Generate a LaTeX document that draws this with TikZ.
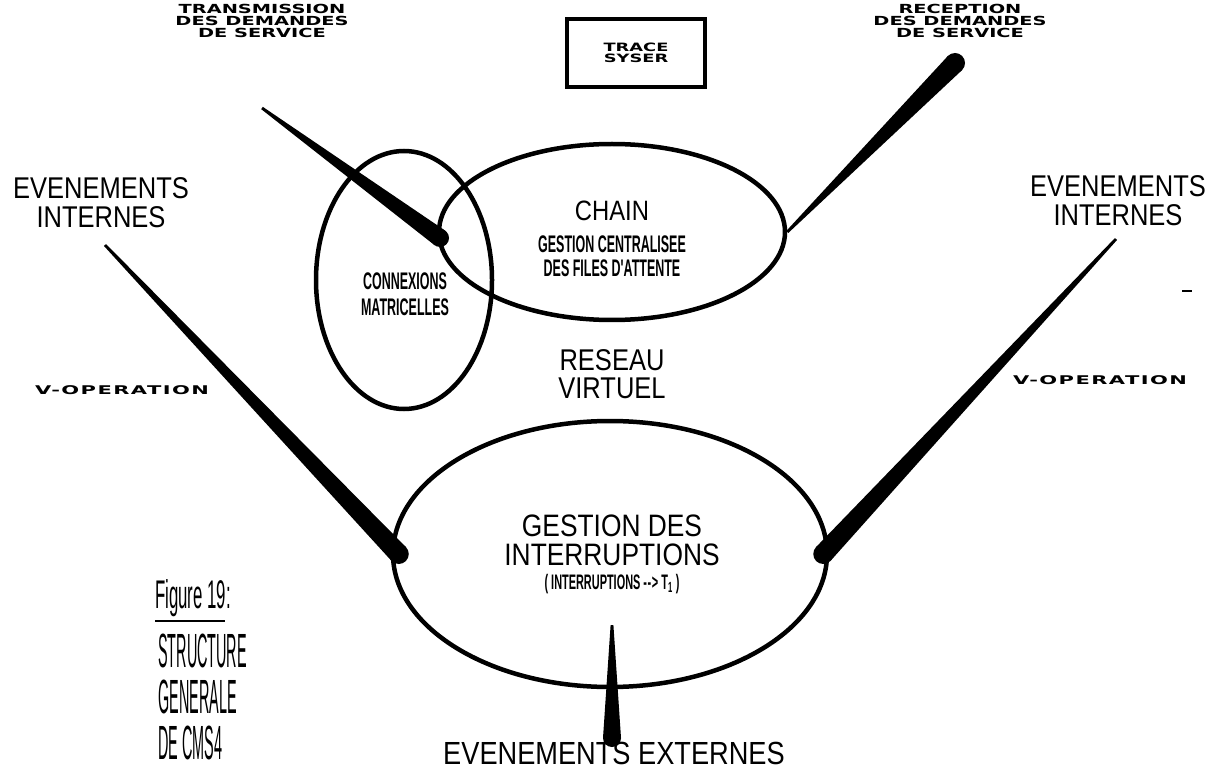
\documentclass[tikz,border=0pt]{standalone}
\usepackage{fontspec}
\setmainfont{Liberation Sans}
\newfontfamily\leroy[FakeStretch=0.85]{Liberation Sans}
\newfontfamily\narrowb[FakeStretch=0.52]{Liberation Sans}
\newfontfamily\wideb[FakeStretch=1.55]{DejaVu Sans}
\newfontfamily\widev[FakeStretch=1.75,LetterSpace=12]{DejaVu Sans}
\newfontfamily\hand[FakeStretch=0.42]{Liberation Sans}
\newfontfamily\handtall[FakeStretch=0.3]{Liberation Sans}
\usetikzlibrary{shapes.geometric,calc}
\newcommand\taper[3]{%
  \fill ($(#1)!1.4pt!90:(#2)$) -- ($(#2)!#3!-90:(#1)$) -- ($(#2)!#3!90:(#1)$) -- ($(#1)!1.4pt!-90:(#2)$) -- cycle;
  \fill (#2) circle[radius=#3];}
\tikzset{
  ell/.style={draw, ellipse, line width=4.5pt, inner sep=0pt},
  lr/.style 2 args={font={\leroy\fontsize{#1}{#2}\selectfont}},
  nb/.style 2 args={font={\narrowb\bfseries\fontsize{#1}{#2}\selectfont}},
  wb/.style 2 args={font={\wideb\bfseries\fontsize{#1}{#2}\selectfont}},
  wv/.style={font={\widev\bfseries\fontsize{12}{12}\selectfont}},
}
\begin{document}
\begin{tikzpicture}[x=1pt,y=-1pt, every node/.style={inner sep=0pt, align=center}]
\useasboundingbox (0,0) rectangle (1223,775);
\fill[white] (0,0) rectangle (1223,775);

% ellipses
\node[ell, minimum width=176pt, minimum height=258pt] (conn) at (404,280) {};
\node[ell, minimum width=346pt, minimum height=176pt] (chain) at (612,232) {};
\node[ell, minimum width=434pt, minimum height=266pt] (gest) at (610,554) {};

% box
\node[draw, line width=4.5pt, minimum width=138pt, minimum height=68pt] (trace) at (636,53) {};
\node[wb={11.5}{11}] (tracet) at (trace.center) {TRACE\\SYSER};

% top labels
\node[wb={12.5}{12}] (transm) at (262,21) {TRANSMISSION\\DES DEMANDES\\DE SERVICE};
\node[wb={12.5}{12}] (recep) at (960,21) {RECEPTION\\DES DEMANDES\\DE SERVICE};

% inner texts
\node[lr={28}{28}] (chaint) at (612,211) {CHAIN};
\node[nb={24}{24}] (chaing) at (612,256) {GESTION CENTRALISEE\\DES FILES D'ATTENTE};
\node[nb={24}{26}] (connt) at (405,294) {CONNEXIONS\\MATRICELLES};
\node[lr={30}{28}] (reseau) at (612,374) {RESEAU\\VIRTUEL};
\node[lr={31}{29}] (gestt) at (612,540) {GESTION DES\\INTERRUPTIONS};
\node[nb={21}{21}] (gestp) at (612,584) {( INTERRUPTIONS -\kern0.6pt-\kern0.6pt> T\textsubscript{1} )};

% outer labels
\node[lr={30}{29}] (evil) at (101,203) {EVENEMENTS\\INTERNES};
\node[lr={30}{29}] (evir) at (1118,201) {EVENEMENTS\\INTERNES};
\node[lr={32}{32}] (evext) at (614,753) {EVENEMENTS EXTERNES};
\node[wv] (vopl) at (122,390) {V-OPERATION};
\node[wv] (vopr) at (1100,380) {V-OPERATION};

% figure caption
\node[font={\hand\fontsize{40}{40}\selectfont}, anchor=west] (fig) at (155,598) {Figure 19:};
\draw[line width=1.5pt] ($(fig.south west)+(0,4)$) -- ($(fig.south east)+(-6,4)$);
\node[font={\handtall\fontsize{48}{46}\selectfont}, align=left, anchor=north west] (struct) at (158,634) {STRUCTURE\\GENERALE\\DE CMS4};

% stray mark
\draw[line width=2pt] (1182,291) -- (1192,291);

% wedges
\coordinate (tl1) at (262,108);
\coordinate (tl2) at (440,238);
\taper{tl1}{tl2}{9pt}
\coordinate (tr2) at (955,63);
\taper{chain.east}{tr2}{10pt}
\coordinate (l1) at (105,245);
\coordinate (l2) at ($(gest.west)+(8,0)$);
\taper{l1}{l2}{10pt}
\coordinate (r1) at (1116,239);
\coordinate (r2) at ($(gest.east)+(-6,0)$);
\taper{r1}{r2}{10pt}
\coordinate (b1) at (612,625);
\coordinate (b2) at (612,738);
\taper{b1}{b2}{9pt}
\end{tikzpicture}
\end{document}
